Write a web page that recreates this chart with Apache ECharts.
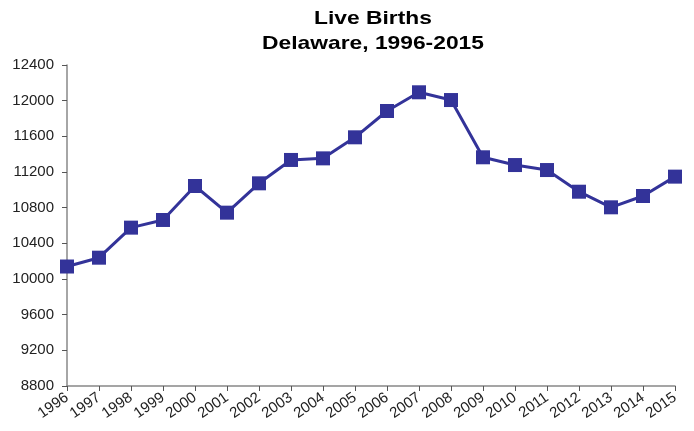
<!DOCTYPE html>
<html>
<head>
<meta charset="utf-8">
<script src="https://cdn.jsdelivr.net/npm/echarts@6/dist/echarts.min.js"></script>
<style>
  html, body { margin: 0; padding: 0; background: #fff; }
  #chart { width: 694px; height: 431px; }
</style>
</head>
<body>
<div id="chart"></div>
<script>
// live births per year
var years = ['1996', '1997', '1998', '1999', '2000', '2001', '2002', '2003', '2004', '2005',
             '2006', '2007', '2008', '2009', '2010', '2011', '2012', '2013', '2014', '2015'];
var births = [10140, 10239, 10576, 10662, 11043, 10744, 11073, 11335, 11353, 11589,
              11884, 12094, 12007, 11365, 11278, 11222, 10979, 10804, 10931, 11148];
var yTicks = { min: 8800, max: 12400, step: 400 };
var titleLines = ['Live Births', 'Delaware, 1996-2015'];

var myChart = echarts.init(document.getElementById('chart'));
var labelFont = 'Liberation Sans, Arial, sans-serif';
// title drawn as graphic text so it can be stretched a bit wider like the original
var titleFont = 'bold 19px Liberation Sans, Arial, sans-serif';
var option = {
  animation: false,
  graphic: [{
    type: 'text',
    x: 373,
    y: 19,
    scaleX: 1.2,
    style: { text: titleLines[0], font: titleFont, fill: '#000', textAlign: 'center', textVerticalAlign: 'middle' }
  }, {
    type: 'text',
    x: 373,
    y: 44,
    scaleX: 1.2,
    style: { text: titleLines[1], font: titleFont, fill: '#000', textAlign: 'center', textVerticalAlign: 'middle' }
  }],
  grid: {
    left: 67,
    right: 19,
    top: 65,
    bottom: 45,
    containLabel: false
  },
  xAxis: {
    type: 'category',
    data: years,
    boundaryGap: false,
    axisLine: { lineStyle: { color: '#888', width: 1.5 } },
    axisTick: { show: true, alignWithLabel: true, length: 5, lineStyle: { color: '#555' } },
    axisLabel: {
      rotate: 35,
      interval: 0,
      margin: 10,
      fontFamily: labelFont,
      fontSize: 15,
      color: '#222'
    },
    splitLine: { show: false }
  },
  yAxis: {
    type: 'value',
    min: yTicks.min,
    max: yTicks.max,
    interval: yTicks.step,
    axisLine: { show: true, lineStyle: { color: '#888', width: 1.5 } },
    axisTick: { show: true, length: 5, lineStyle: { color: '#555' } },
    axisLabel: {
      margin: 13,
      fontFamily: labelFont,
      fontSize: 15,
      color: '#222',
      formatter: function (v) { return String(v); }
    },
    splitLine: { show: false }
  },
  series: [{
    name: 'Live Births',
    type: 'line',
    data: births,
    symbol: 'rect',
    symbolSize: 14,
    lineStyle: { color: '#333399', width: 3 },
    itemStyle: { color: '#333399' }
  }]
};
myChart.setOption(option);
</script>
</body>
</html>
